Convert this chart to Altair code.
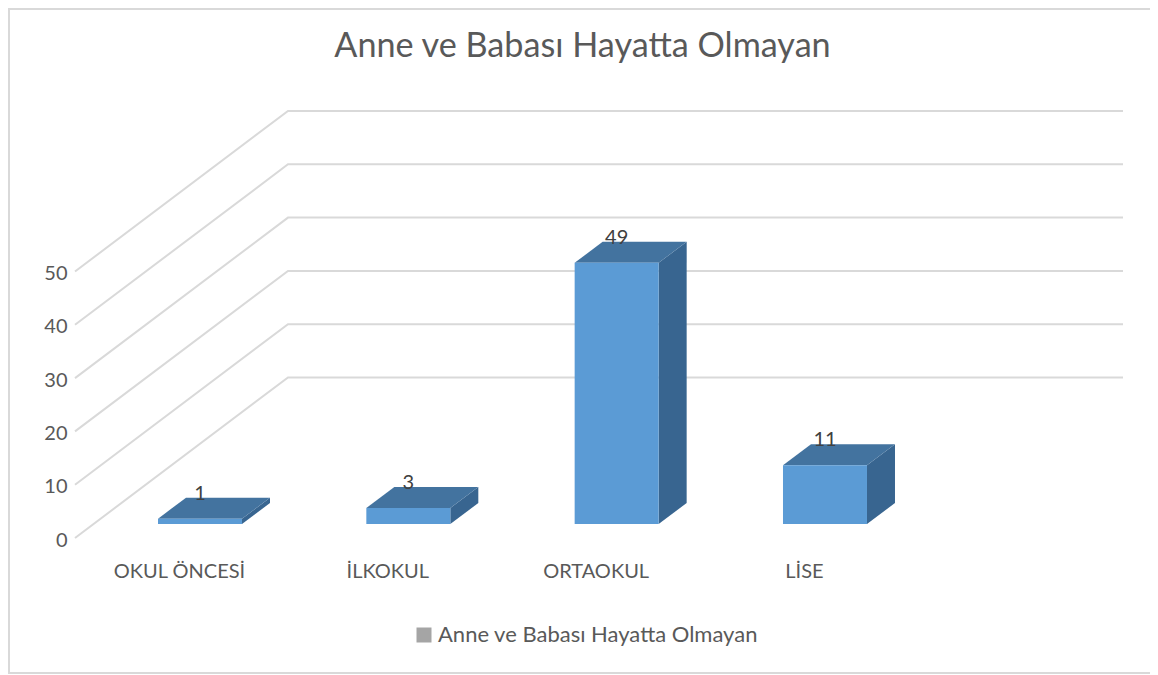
import json
import altair as alt
import pandas as pd

categories = ["OKUL ÖNCESİ", "İLKOKUL", "ORTAOKUL", "LİSE"]
values = [1, 3, 49, 11]
ticks = [0, 10, 20, 30, 40, 50]
title_text = "Anne ve Babası Hayatta Olmayan"

FONT = "Lato"
TEXT = "#595959"
GRID = "#d9d9d9"
W, H = 1142, 666
PX_X = 208.33          # px per category
PX_Y = 5.33            # px per value unit
x0_px, y0_px = 192, 530  # category 0 centre, value 0 (svg coords)

xdom = [-x0_px / PX_X, (W - x0_px) / PX_X]
ydom = [(y0_px - H) / PX_Y, y0_px / PX_Y]
xs = alt.Scale(domain=xdom, range=[0, W], nice=False, zero=False)
ys = alt.Scale(domain=ydom, range=[H, 0], nice=False, zero=False)

half = 42 / PX_X       # half bar width
dx = 28 / PX_X         # bar depth, horizontal
dz = 21 / PX_Y         # bar depth, vertical
base = 14 / PX_Y       # bar base above the front floor line
wall_front = (75 - 8 - x0_px) / PX_X
wall_back = (288 - 8 - x0_px) / PX_X
wall_end = (1123 - 8 - x0_px) / PX_X
wall_rise = 160.5 / PX_Y

grid_rows = []
for t in ticks:
    grid_rows += [
        {"t": t, "o": 0, "x": wall_front, "y": t},
        {"t": t, "o": 1, "x": wall_back, "y": t + wall_rise},
        {"t": t, "o": 2, "x": wall_end, "y": t + wall_rise},
    ]
grid_df = pd.DataFrame(grid_rows)

front, side, top = [], [], []
for i, (c, v) in enumerate(zip(categories, values)):
    l, r, b, h = i - half, i + half, base, base + v
    front.append({"c": c, "x": l, "x2": r, "y": b, "y2": h})
    side += [
        {"c": c, "x": r, "y": b, "y2": h},
        {"c": c, "x": r + dx, "y": b + dz, "y2": h + dz},
    ]
    top += [
        {"c": c, "x": l, "y": h, "y2": h},
        {"c": c, "x": l + dx, "y": h, "y2": h + dz},
        {"c": c, "x": r, "y": h, "y2": h + dz},
        {"c": c, "x": r + dx, "y": h + dz, "y2": h + dz},
    ]
front_df, side_df, top_df = map(pd.DataFrame, (front, side, top))
label_df = pd.DataFrame(
    {"x": list(range(len(values))), "y": [base + v + 25 / PX_Y for v in values], "v": values}
)
legend_df = pd.DataFrame({"s": [title_text], "x": [0], "y": [0]})
frame_df = pd.DataFrame({"k": ["frame"]})

label_expr = "[" + ",".join(json.dumps(c, ensure_ascii=False) for c in categories) + "][datum.value]"

X = alt.X(
    "x:Q",
    scale=xs,
    title=None,
    axis=alt.Axis(
        values=list(range(len(categories))),
        labelExpr=label_expr,
        labelOffset=-21,
        offset=-(H - 562 + 9),
        domain=False,
        ticks=False,
        grid=False,
        labelPadding=0,
        labelFont=FONT,
        labelFontSize=20,
        labelColor=TEXT,
        labelOverlap=False,
        labelFlush=False,
        labelBound=False,
    ),
)
Y = alt.Y(
    "y:Q",
    scale=ys,
    title=None,
    stack=None,
    axis=alt.Axis(
        values=ticks,
        offset=-59,
        domain=False,
        ticks=False,
        grid=False,
        labelPadding=0,
        labelOffset=2,
        labelFont=FONT,
        labelFontSize=20,
        labelColor=TEXT,
        labelOverlap=False,
        labelFlush=False,
        labelBound=False,
    ),
)

frame_left = alt.Chart(frame_df).mark_rule(color=GRID, strokeWidth=2).encode(
    x=alt.value(1), y=alt.value(0), y2=alt.value(H)
)
frame_top = alt.Chart(frame_df).mark_rule(color=GRID, strokeWidth=2).encode(
    x=alt.value(0), x2=alt.value(W), y=alt.value(1)
)
frame_bottom = alt.Chart(frame_df).mark_rule(color=GRID, strokeWidth=2).encode(
    x=alt.value(0), x2=alt.value(W), y=alt.value(H - 1)
)

grid = alt.Chart(grid_df).mark_line(color=GRID, strokeWidth=2).encode(
    x=X, y=Y, detail="t:N", order="o:Q"
)
side_l = alt.Chart(side_df).mark_area(color="#386590", interpolate="linear").encode(
    x=X, y=Y, y2="y2:Q", detail="c:N"
)
top_l = alt.Chart(top_df).mark_area(color="#43739f", interpolate="linear").encode(
    x=X, y=Y, y2="y2:Q", detail="c:N"
)
front_l = alt.Chart(front_df).mark_rect(color="#5b9bd5").encode(
    x=X, x2="x2:Q", y=Y, y2="y2:Q"
)
labels = alt.Chart(label_df).mark_text(
    font=FONT, fontSize=20, color="#404040", baseline="middle", align="center"
).encode(x=X, y=Y, text="v:Q")

legend_l = alt.Chart(legend_df).mark_point(filled=True, opacity=0, shape="square").encode(
    x=X,
    y=Y,
    color=alt.Color(
        "s:N",
        scale=alt.Scale(domain=[title_text], range=["#a5a5a5"]),
        legend=alt.Legend(
            orient="none",
            legendX=405,
            legendY=616,
            title=None,
            symbolType="square",
            symbolSize=225,
            symbolOpacity=1,
            symbolStrokeWidth=0,
            labelFont=FONT,
            labelFontSize=22,
            labelColor=TEXT,
            labelLimit=500,
            labelOffset=3,
        ),
    ),
)

chart = (
    alt.layer(frame_left, frame_top, frame_bottom, grid, side_l, top_l, front_l, labels, legend_l)
    .properties(
        width=W,
        height=H,
        padding=0,
        background="white",
        autosize=alt.AutoSizeParams(type="none"),
        title=alt.TitleParams(
            title_text,
            offset=-57.5,
            dx=3.5,
            anchor="middle",
            font=FONT,
            fontSize=34.2,
            fontWeight="normal",
            color=TEXT,
        ),
    )
    .configure_view(stroke="transparent", strokeWidth=0)
)

chart.save("out.html", embed_options={"renderer": "svg", "actions": False})
